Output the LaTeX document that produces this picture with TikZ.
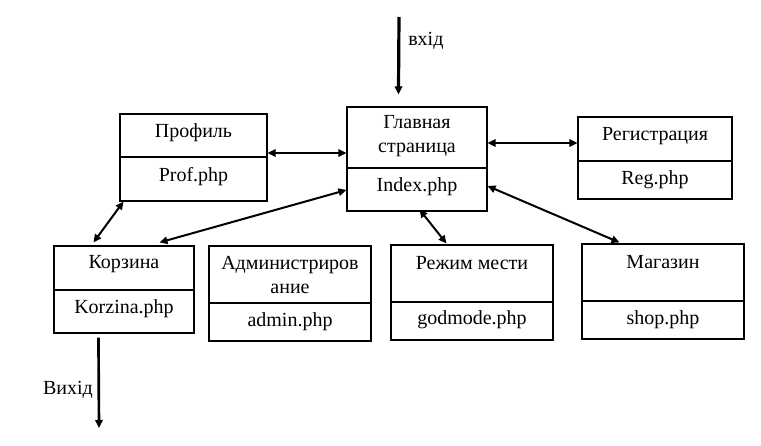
\documentclass[tikz,border=0pt]{standalone}
\usepackage{fontspec}
\setmainfont{Liberation Serif}
\usetikzlibrary{arrows.meta,calc,fit}
\tikzset{
  box/.style={draw, line width=0.8pt, inner sep=0pt},
  lbl/.style={font=\fontsize{15}{18}\selectfont, align=center, inner sep=0pt},
  dbl/.style={line width=1.5pt, {Triangle[length=6pt,width=5.5pt]}-{Triangle[length=6pt,width=5.5pt]}},
  sgl/.style={line width=2pt, -{Triangle[length=6pt,width=5.5pt]}},
  divl/.style={line width=0.8pt}
}
\begin{document}
\begin{tikzpicture}[x=0.75pt,y=-0.75pt]
\useasboundingbox (0,0) rectangle (761,446);
% boxes
\node[box, fit={(120,114)(267,201)}] (prof) {};
\node[box, fit={(347,107)(487,211)}] (main) {};
\node[box, fit={(578,117)(732,199)}] (reg) {};
\node[box, fit={(54,246)(194,333)}] (korz) {};
\node[box, fit={(209,246)(371,341)}] (admin) {};
\node[box, fit={(391,245)(553,340)}] (god) {};
\node[box, fit={(582,244)(744,339)}] (shop) {};
% dividers
\draw[divl] (prof.west |- 0,157) -- (prof.east |- 0,157);
\draw[divl] (main.west |- 0,168) -- (main.east |- 0,168);
\draw[divl] (reg.west |- 0,161) -- (reg.east |- 0,161);
\draw[divl] (korz.west |- 0,290) -- (korz.east |- 0,290);
\draw[divl] (admin.west |- 0,303) -- (admin.east |- 0,303);
\draw[divl] (god.west |- 0,302) -- (god.east |- 0,302);
\draw[divl] (shop.west |- 0,301) -- (shop.east |- 0,301);
% texts
\node[lbl] (profT) at (193.5,133) {Профиль};
\node[lbl] (profB) at (193.5,177) {Prof.php};
\node[lbl] (mainT) at (417,136) {Главная\\страница};
\node[lbl] (mainB) at (417,187) {Index.php};
\node[lbl] (regT) at (655,136) {Регистрация};
\node[lbl] (regB) at (655,180) {Reg.php};
\node[lbl] (korzT) at (124,264) {Корзина};
\node[lbl] (korzB) at (124,309) {Korzina.php};
\node[lbl] (adminT) at (290,275) {Администриров\\ание};
\node[lbl] (adminB) at (290,322) {admin.php};
\node[lbl] (godT) at (472,263) {Режим мести};
\node[lbl] (godB) at (472,320) {godmode.php};
\node[lbl] (shopT) at (663,262) {Магазин};
\node[lbl] (shopB) at (663,320) {shop.php};
% entry / exit
\coordinate (inS) at (399,17);
\draw[sgl, line width=2.4pt] (inS) -- ($(main.north west)+(52,-12)$);
\node[lbl, anchor=west] (inL) at (408,41) {вхід};
\coordinate (outE) at (99,428);
\draw[sgl] ($(korz.south west)+(45,4)$) -- (outE);
\node[lbl] (outL) at (68,390) {Вихід};
% connectors
\draw[dbl] (prof.east |- 0,153) -- (main.west |- 0,153);
\draw[dbl] (main.east |- 0,143) -- (reg.west |- 0,143);
\draw[dbl] ($(prof.south west)+(4,0)$) -- ($(korz.north west)+(40,-3)$);
\draw[dbl] (main.west |- 0,190) -- ($(korz.north west)+(106,-3)$);
\draw[dbl] ($(main.south west)+(73,-2)$) -- ($(god.north west)+(56,-1)$);
\draw[dbl] (main.east |- 0,186) -- ($(shop.north west)+(38,-1)$);
\end{tikzpicture}
\end{document}
